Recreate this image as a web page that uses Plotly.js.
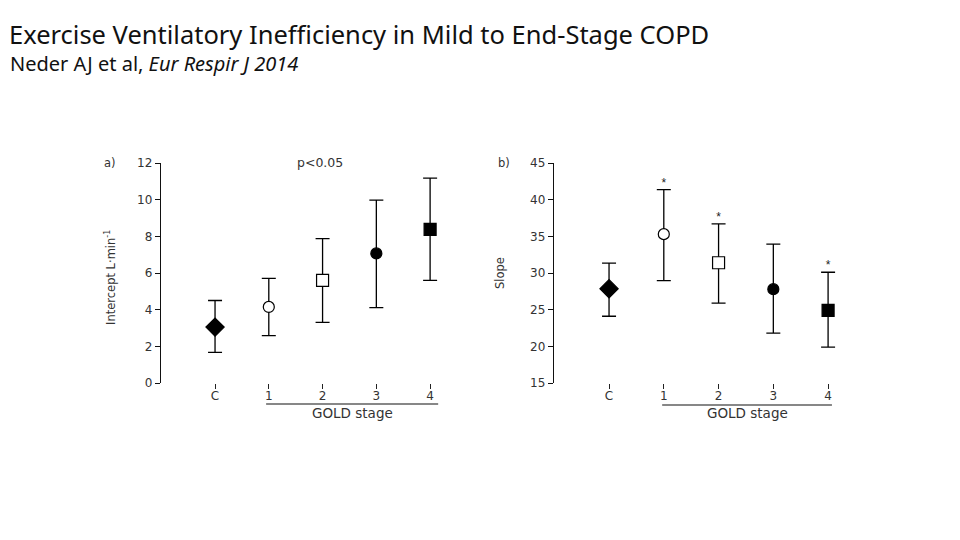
<!DOCTYPE html>
<html>
<head>
<meta charset="utf-8">
<script src="https://cdn.plot.ly/plotly-3.0.1.min.js"></script>
<style>html,body{margin:0;padding:0;background:#fff;}#chart{width:960px;height:540px;}</style>
</head>
<body>
<div id="chart"></div>
<script>
// ---- data ----
const groups = ['C', '1', '2', '3', '4'];
const groupIndex = [0, 1, 2, 3, 4];
const symbols = ['diamond', 'circle', 'square', 'circle', 'square'];
const filled = [true, false, false, true, true];

const interceptMean = [3.05, 4.15, 5.6, 7.07, 8.38];
const interceptUpper = [4.5, 5.71, 7.87, 9.98, 11.17];
const interceptLower = [1.67, 2.58, 3.31, 4.11, 5.6];

const slopeMean = [27.85, 35.3, 31.4, 27.8, 24.9];
const slopeUpper = [31.36, 41.36, 36.7, 33.95, 30.1];
const slopeLower = [24.1, 28.95, 25.9, 21.8, 19.9];

const slopeSig = ['', '*', '*', '', '*'];

const yTicksA = [0, 2, 4, 6, 8, 10, 12];
const yTicksB = [15, 20, 25, 30, 35, 40, 45];

// ---- build ----
const W = 960, H = 540;
const px = v => v / W;
const py = v => (H - v) / H;
const FONT = 'DejaVu Sans, Liberation Sans, Arial, sans-serif';

function errTrace(mean, up, lo, xa, ya) {
  return {
    x: groupIndex, y: mean, xaxis: xa, yaxis: ya, type: 'scatter', mode: 'markers',
    showlegend: false, hoverinfo: 'skip', opacity: 1,
    error_y: {
      type: 'data', symmetric: false,
      array: up.map((u, i) => u - mean[i]),
      arrayminus: lo.map((l, i) => mean[i] - l),
      color: '#000', thickness: 1.3, width: 7
    },
    marker: {
      symbol: symbols, opacity: 1,
      size: symbols.map(s => s === 'diamond' ? 14 : (s === 'square' ? 12 : 11)),
      color: filled.map(f => f ? '#000' : '#fff'),
      line: { color: '#000', width: 1.2 }
    }
  };
}

const sigIdx = slopeSig.map((s, i) => s ? i : -1).filter(i => i >= 0);

const traces = [
  errTrace(interceptMean, interceptUpper, interceptLower, 'x', 'y'),
  errTrace(slopeMean, slopeUpper, slopeLower, 'x2', 'y2'),
  {
    x: sigIdx.map(i => groupIndex[i]), y: sigIdx.map(i => slopeUpper[i]), xaxis: 'x2', yaxis: 'y2',
    type: 'scatter', mode: 'text',
    text: sigIdx.map(i => slopeSig[i]), textposition: 'top center', showlegend: false, hoverinfo: 'skip',
    textfont: { family: 'Liberation Sans, Arial, sans-serif', size: 12, color: '#222' }
  }
];

const tickFont = { family: FONT, size: 12, color: '#333' };

const xCommon = {
  tickvals: groupIndex, ticktext: groups, showgrid: false, zeroline: false, showline: false,
  ticks: 'outside', ticklen: 5, tickwidth: 1, tickcolor: '#222', tickfont: tickFont,
  ticklabelstandoff: -3, fixedrange: true
};
const yCommon = {
  showgrid: false, zeroline: false, showline: true, linecolor: '#111', linewidth: 1.2,
  ticks: 'outside', ticklen: 5, tickwidth: 1, tickcolor: '#111', tickfont: tickFont,
  fixedrange: true
};

const annFont = { family: FONT, size: 11.5, color: '#333' };
const pFont = { family: FONT, size: 12.5, color: '#333' };
const goldFont = { family: FONT, size: 13.5, color: '#333' };

const layout = {
  width: W, height: H,
  margin: { l: 0, r: 0, t: 0, b: 0 },
  paper_bgcolor: '#fff', plot_bgcolor: '#fff',
  showlegend: false,
  title: {
    text: 'Exercise Ventilatory Inefficiency in Mild to End-Stage COPD',
    x: px(9), xanchor: 'left', y: py(35), yanchor: 'middle',
    font: { family: 'Noto Sans, Open Sans, sans-serif', size: 25.5, color: '#111' }
  },
  xaxis: Object.assign({}, xCommon, { domain: [px(161), px(450)], range: [-1.005, 4.37], anchor: 'y' }),
  yaxis: Object.assign({}, yCommon, { domain: [py(383), py(163)], range: [0, 12], tickvals: yTicksA, anchor: 'x' }),
  xaxis2: Object.assign({}, xCommon, { domain: [px(554), px(850)], range: [-1.005, 4.4], anchor: 'y2' }),
  yaxis2: Object.assign({}, yCommon, { domain: [py(383), py(163)], range: [15, 45], tickvals: yTicksB, anchor: 'x2' }),
  shapes: [
    { type: 'line', xref: 'x', yref: 'paper', x0: 0.95, x1: 4.15, y0: py(404), y1: py(404), line: { color: '#111', width: 1.2 } },
    { type: 'line', xref: 'x2', yref: 'paper', x0: 0.97, x1: 4.07, y0: py(405), y1: py(405), line: { color: '#111', width: 1.2 } }
  ],
  annotations: [
    { text: 'Neder AJ et al, <i>Eur Respir J 2014</i>', xref: 'paper', yref: 'paper', x: px(8), y: py(64),
      xanchor: 'left', yanchor: 'middle', showarrow: false,
      font: { family: 'Noto Sans, Open Sans, sans-serif', size: 20, color: '#111' } },
    { text: 'a)', xref: 'paper', yref: 'paper', x: px(110), y: py(163), xanchor: 'center', yanchor: 'middle', showarrow: false, font: annFont },
    { text: 'b)', xref: 'paper', yref: 'paper', x: px(504), y: py(163), xanchor: 'center', yanchor: 'middle', showarrow: false, font: annFont },
    { text: 'p<0.05', xref: 'paper', yref: 'paper', x: px(320), y: py(163), xanchor: 'center', yanchor: 'middle', showarrow: false, font: pFont },
    { text: 'Intercept L·min<sup>-1</sup>', xref: 'paper', yref: 'paper', x: px(110), y: py(278), textangle: -90,
      xanchor: 'center', yanchor: 'middle', showarrow: false, font: annFont },
    { text: 'Slope', xref: 'paper', yref: 'paper', x: px(500), y: py(273), textangle: -90,
      xanchor: 'center', yanchor: 'middle', showarrow: false, font: annFont },
    { text: 'GOLD stage', xref: 'x', yref: 'paper', x: 2.55, y: py(413), xanchor: 'center', yanchor: 'middle', showarrow: false, font: goldFont },
    { text: 'GOLD stage', xref: 'x2', yref: 'paper', x: 2.52, y: py(413), xanchor: 'center', yanchor: 'middle', showarrow: false, font: goldFont }
  ]
};

Plotly.newPlot('chart', traces, layout, { staticPlot: true, displayModeBar: false });
</script>
</body>
</html>
